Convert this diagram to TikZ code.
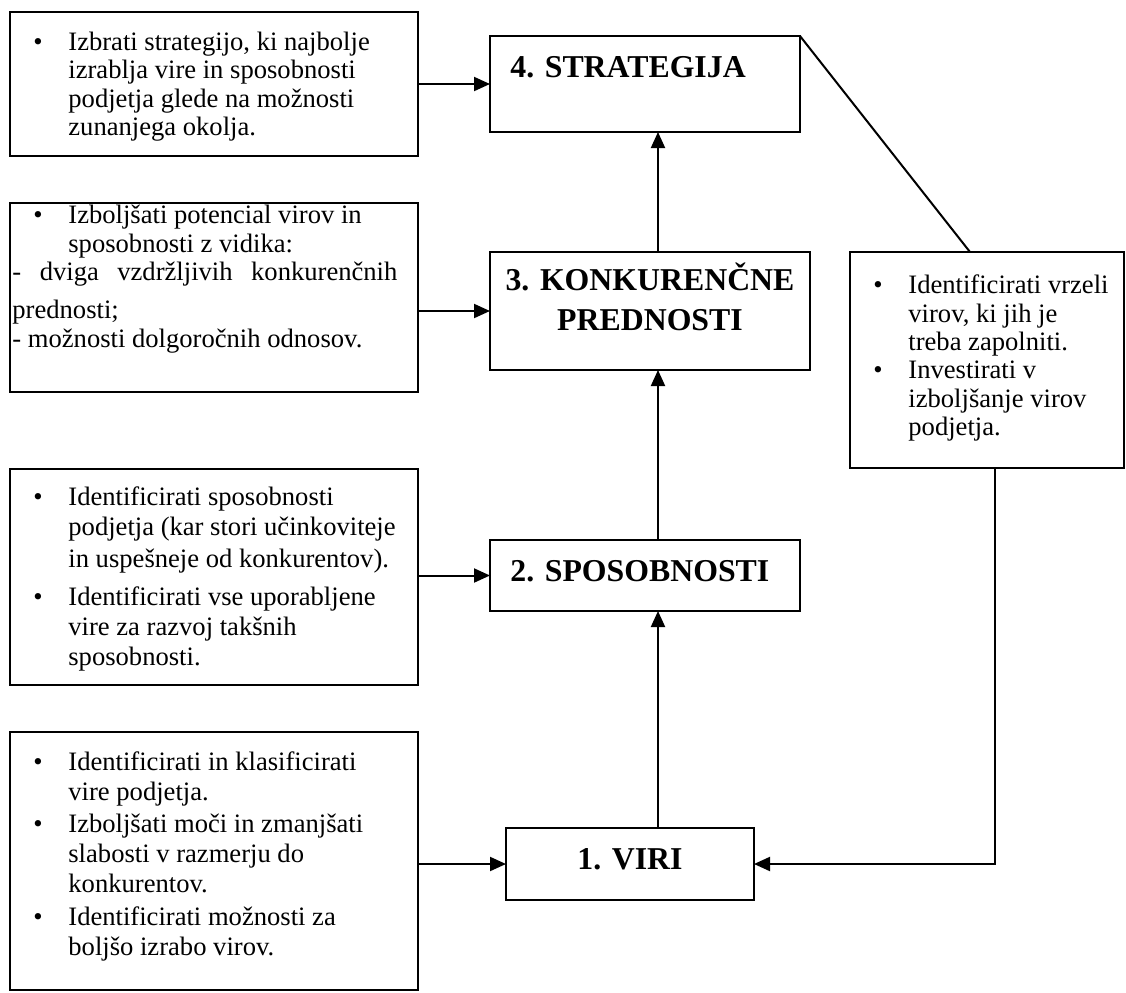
\documentclass[tikz,border=0pt]{standalone}
\usepackage{fontspec}
\setmainfont{Liberation Serif}
\usetikzlibrary{arrows.meta}
\newcommand{\TL}[4]{\node[txt] (#1) at (#2,#3) {#4};}
\newcommand{\BX}[5]{\node[box, minimum width={(#4-#2)*0.5pt}, minimum height={(#5-#3)*0.5pt}] (#1) at ({(#2+#4)/2},{(#3+#5)/2}) {};}
\begin{document}
\begin{tikzpicture}[x=0.5pt,y=-0.5pt,
  box/.style={draw, line width=1pt, inner sep=0pt, outer sep=0pt},
  txt/.style={anchor=base west, inner sep=0pt, font=\fontsize{13.3}{14}\selectfont},
  ttl/.style={anchor=base west, inner sep=0pt, font=\fontsize{15.9}{19}\selectfont\bfseries},
  conn/.style={line width=1pt},
  arr/.style={conn, -{Triangle[length=8pt,width=7pt]}}]
\useasboundingbox (0,0) rectangle (1126,992);

% boxes
\BX{A}{10}{12}{418}{156}
\BX{B}{10}{203}{418}{392}
\BX{C}{10}{469}{418}{685}
\BX{D}{10}{732}{418}{990}
\BX{S4}{490}{36}{800}{132}
\BX{S3}{490}{252}{810}{370}
\BX{S2}{490}{540}{800}{611}
\BX{V}{506}{828}{754}{900}
\BX{R}{850}{252}{1124}{468}

% titles
\node[ttl] (t4) at (510,77) {4. STRATEGIJA};
\node[ttl,anchor=base] (t3a) at (650,290) {3. KONKURENČNE};
\node[ttl,anchor=base] (t3b) at (650,330) {PREDNOSTI};
\node[ttl] (t2) at (510,581) {2. SPOSOBNOSTI};
\node[ttl,anchor=base] (t1) at (630,869) {1. VIRI};

% box A
\TL{a0}{33}{50}{\textbullet}
\TL{a1}{68}{50}{Izbrati strategijo, ki najbolje}
\TL{a2}{68}{78}{izrablja vire in sposobnosti}
\TL{a3}{68}{107}{podjetja glede na možnosti}
\TL{a4}{68}{135}{zunanjega okolja.}

% box B
\TL{b0}{33}{223}{\textbullet}
\TL{b1}{68}{223}{Izboljšati potencial virov in}
\TL{b2}{68}{252}{sposobnosti z vidika:}
\TL{b3}{12}{280}{\makebox[192.5pt][s]{- dviga vzdržljivih konkurenčnih}}
\TL{b4}{12}{318}{prednosti;}
\TL{b5}{12}{347}{- možnosti dolgoročnih odnosov.}

% box C
\TL{c0}{33}{505}{\textbullet}
\TL{c1}{68}{505}{Identificirati sposobnosti}
\TL{c2}{68}{535}{podjetja (kar stori učinkoviteje}
\TL{c3}{68}{567}{in uspešneje od konkurentov).}
\TL{c4}{33}{605}{\textbullet}
\TL{c5}{68}{605}{Identificirati vse uporabljene}
\TL{c6}{68}{635}{vire za razvoj takšnih}
\TL{c7}{68}{665}{sposobnosti.}

% box D
\TL{d0}{33}{770}{\textbullet}
\TL{d1}{68}{770}{Identificirati in klasificirati}
\TL{d2}{68}{800}{vire podjetja.}
\TL{d3}{33}{832}{\textbullet}
\TL{d4}{68}{832}{Izboljšati moči in zmanjšati}
\TL{d5}{68}{862}{slabosti v razmerju do}
\TL{d6}{68}{892}{konkurentov.}
\TL{d7}{33}{925}{\textbullet}
\TL{d8}{68}{925}{Identificirati možnosti za}
\TL{d9}{68}{955}{boljšo izrabo virov.}

% right box
\TL{r0}{873}{293}{\textbullet}
\TL{r1}{908}{293}{Identificirati vrzeli}
\TL{r2}{908}{322}{virov, ki jih je}
\TL{r3}{908}{350}{treba zapolniti.}
\TL{r4}{873}{378}{\textbullet}
\TL{r5}{908}{378}{Investirati v}
\TL{r6}{908}{407}{izboljšanje virov}
\TL{r7}{908}{435}{podjetja.}

% helper coordinates
\coordinate (spine) at (658,0);
\coordinate (fb) at (995,0);
\coordinate (dg) at (970,0);

% connectors
\draw[arr] (A.east) -- (S4.west);
\draw[arr] (B.east |- S3.west) -- (S3.west);
\draw[arr] (C.east |- S2.west) -- (S2.west);
\draw[arr] (D.east |- V.west) -- (V.west);
\draw[arr] (spine |- V.north) -- (spine |- S2.south);
\draw[arr] (spine |- S2.north) -- (spine |- S3.south);
\draw[arr] (spine |- S3.north) -- (spine |- S4.south);
\draw[arr] (fb |- R.south) -- (fb |- V.east) -- (V.east);
\draw[conn] (S4.north east) -- (dg |- R.north);
\end{tikzpicture}
\end{document}
